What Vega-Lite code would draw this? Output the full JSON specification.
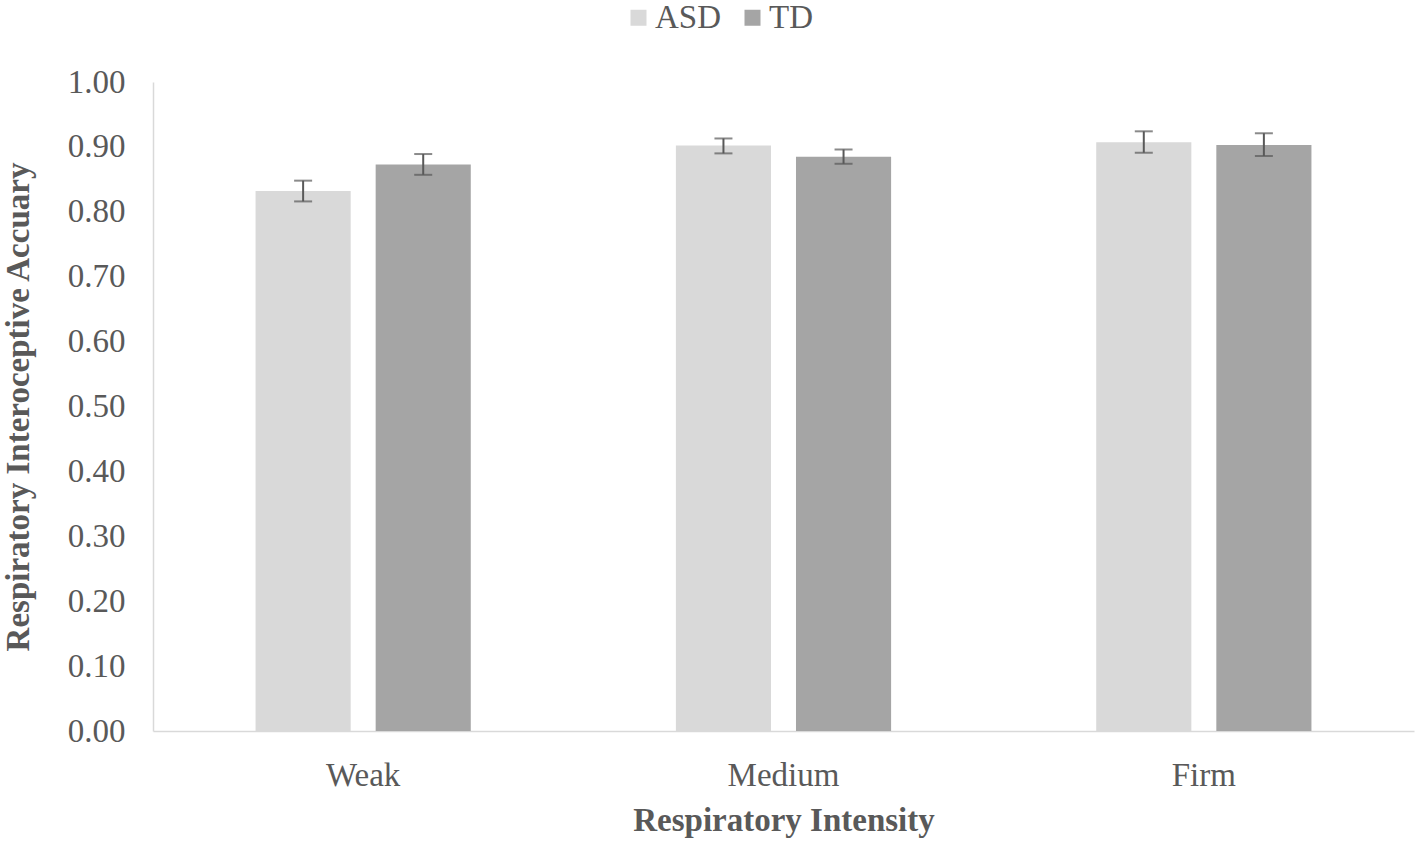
{
  "$schema": "https://vega.github.io/schema/vega-lite/v6.json",
  "autosize": {"type": "none"},
  "width": 1261,
  "height": 649,
  "padding": {"left": 153, "top": 82, "right": 3, "bottom": 115},
  "background": "white",
  "config": {
    "view": {"stroke": null},
    "font": "Liberation Serif",
    "axis": {"labelFont": "Liberation Serif", "titleFont": "Liberation Serif", "labelColor": "#595959", "titleColor": "#595959", "labelFontSize": 33, "titleFontSize": 33, "titleFontWeight": "bold", "grid": false, "ticks": false, "domainColor": "#d9d9d9", "domainWidth": 1.5},
    "legend": {"labelFont": "Liberation Serif", "labelColor": "#595959", "labelFontSize": 33}
  },
  "data": {
    "values": [
      {"Intensity": "Weak", "Group": "ASD", "value": 0.832, "lo": 0.816, "hi": 0.848},
      {"Intensity": "Weak", "Group": "TD", "value": 0.873, "lo": 0.857, "hi": 0.889},
      {"Intensity": "Medium", "Group": "ASD", "value": 0.902, "lo": 0.890, "hi": 0.913},
      {"Intensity": "Medium", "Group": "TD", "value": 0.885, "lo": 0.874, "hi": 0.896},
      {"Intensity": "Firm", "Group": "ASD", "value": 0.907, "lo": 0.891, "hi": 0.924},
      {"Intensity": "Firm", "Group": "TD", "value": 0.903, "lo": 0.886, "hi": 0.921}
    ]
  },
  "encoding": {
    "x": {"field": "Intensity", "type": "nominal", "sort": ["Weak", "Medium", "Firm"],
      "scale": {"paddingInner": 0.488, "paddingOuter": 0.244},
      "axis": {"title": "Respiratory Intensity", "labelAngle": 0, "labelPadding": 28, "titlePadding": 12}},
    "xOffset": {"field": "Group", "type": "nominal", "sort": ["ASD", "TD"], "scale": {"paddingInner": 0.208, "paddingOuter": 0}}
  },
  "layer": [
    {
      "mark": {"type": "bar"},
      "encoding": {
        "y": {"field": "value", "type": "quantitative",
          "scale": {"domain": [0, 1]},
          "axis": {"title": "Respiratory Interoceptive Accuary", "format": ".2f", "values": [0, 0.1, 0.2, 0.3, 0.4, 0.5, 0.6, 0.7, 0.8, 0.9, 1.0], "labelPadding": 28, "titlePadding": 32}},
        "color": {"field": "Group", "type": "nominal", "sort": ["ASD", "TD"],
          "scale": {"domain": ["ASD", "TD"], "range": ["#d9d9d9", "#a5a5a5"]},
          "legend": {"title": null, "orient": "none", "direction": "horizontal", "legendX": 469, "legendY": -81, "symbolType": "square", "symbolSize": 256, "symbolStrokeWidth": 0, "labelOffset": 0, "columnPadding": 14}}
      }
    },
    {
      "mark": {"type": "rule", "color": "#595959", "strokeWidth": 2},
      "encoding": {
        "y": {"field": "lo", "type": "quantitative"},
        "y2": {"field": "hi"}
      }
    },
    {
      "mark": {"type": "tick", "color": "#595959", "thickness": 2, "size": 18, "orient": "horizontal"},
      "encoding": {"y": {"field": "lo", "type": "quantitative"}}
    },
    {
      "mark": {"type": "tick", "color": "#595959", "thickness": 2, "size": 18, "orient": "horizontal"},
      "encoding": {"y": {"field": "hi", "type": "quantitative"}}
    }
  ]
}
